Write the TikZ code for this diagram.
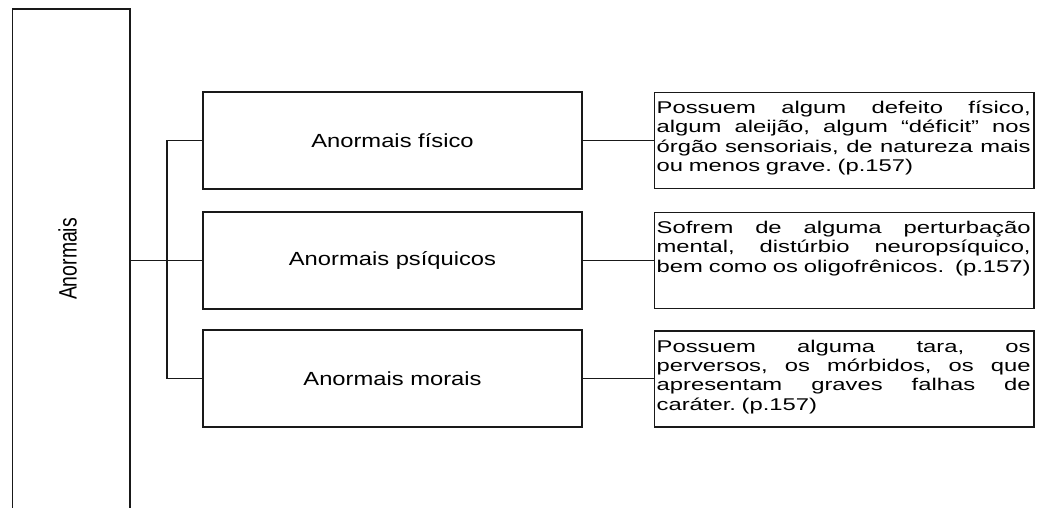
\documentclass[tikz,border=0pt]{standalone}
\usepackage{graphicx}
\usepackage{fontspec}
\setmainfont{Liberation Sans}
\newfontfamily\rootfont{Liberation Sans}
\newfontfamily\midfont[FakeStretch=1.25]{Liberation Sans}
\newfontfamily\rightfont[FakeStretch=1.4]{Liberation Sans}
\newcommand\jline[1]{\leavevmode\hbox to\linewidth{\spaceskip=0.278em plus 1fil\relax\xspaceskip=\spaceskip #1}}
\frenchspacing
\tikzset{
  edge/.style={draw=black!90, line width=1.1pt},
  box/.style={draw=black!90, line width=1.1pt, rectangle, inner sep=0pt},
  midbox/.style={box, minimum width=379pt, minimum height=97pt,
    font=\midfont\fontsize{19}{22}\selectfont},
  rightbox/.style={box, minimum width=379.5pt, minimum height=96pt},
  rtext/.style={anchor=north west, inner sep=0pt, text width=374pt, align=left,
    font=\rightfont\fontsize{17}{19.3}\selectfont},
  rootlabel/.style={inner sep=0pt, font=\rootfont\fontsize{19.4}{22}\selectfont}
}
\begin{document}
\begin{tikzpicture}[x=1pt, y=-1pt]
\useasboundingbox (0,0) rectangle (1043,508);
\fill[white] (0,0) rectangle (1043,508);
% root box (extends below the frame)
\node[box, minimum width=117.5pt, minimum height=502pt] (root) at (71.25,260) {};
\node[rootlabel] (rootlab) at (67.5,259) {\rotatebox{90}{\scalebox{1}[1.3]{Anormais}}};
% middle boxes
\node[midbox] (m1) at (392.5,140.5) {Anormais físico};
\node[midbox] (m2) at (392.5,260.5) {Anormais psíquicos};
\node[midbox] (m3) at (392.5,378.5) {Anormais morais};
% right boxes
\node[rightbox] (r1) at (844.25,140.5) {};
\node[rightbox] (r2) at (844.25,260.5) {};
\node[rightbox] (r3) at (844.25,379) {};
\node[rtext] (t1) at ([xshift=2.5pt,yshift=-8.5pt]r1.north west)
  {\jline{\rule{0pt}{13pt}Possuem algum defeito físico,}\\
   \jline{algum aleijão, algum “déficit” nos}\\
   \jline{órgão sensoriais, de natureza mais}\\
   ou menos grave. (p.157)};
\node[rtext] (t2) at ([xshift=2.5pt,yshift=-8.5pt]r2.north west)
  {\jline{\rule{0pt}{13pt}Sofrem de alguma perturbação}\\
   \jline{mental, distúrbio neuropsíquico,}\\
   \jline{bem como os oligofrênicos.\hspace{0.3em} (p.157)}};
\node[rtext] (t3) at ([xshift=2.5pt,yshift=-8.5pt]r3.north west)
  {\jline{\rule{0pt}{13pt}Possuem alguma tara, os}\\
   \jline{perversos, os mórbidos, os que}\\
   \jline{apresentam graves falhas de}\\
   caráter. (p.157)};
% connectors
\coordinate (bx) at (167,0);
\draw[edge] (m2.west -| root.east) -- (m2.west);
\draw[edge] (m1.west) -- (m1.west -| bx) -- (m3.west -| bx) -- (m3.west);
\draw[edge] (m1.east) -- (r1.west);
\draw[edge] (m2.east) -- (r2.west);
\draw[edge] (m3.east) -- (r3.west |- m3.east);
\end{tikzpicture}
\end{document}
